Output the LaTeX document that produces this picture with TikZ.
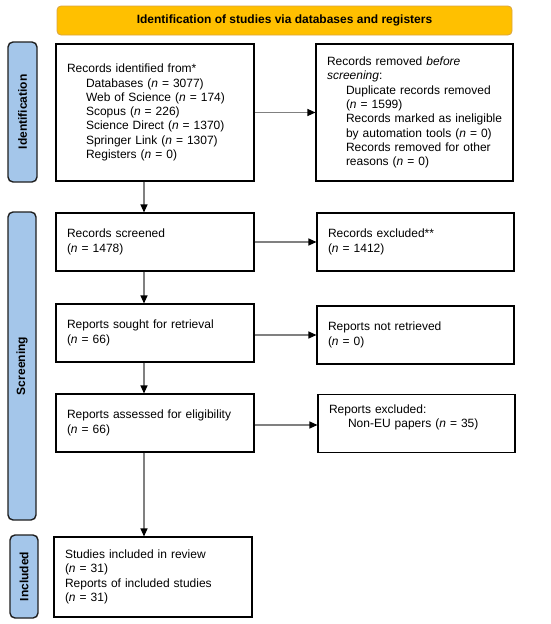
\documentclass[tikz,border=0pt]{standalone}
\usepackage{fontspec}
\setmainfont{Liberation Sans}
\usetikzlibrary{arrows.meta,calc}
\definecolor{gold}{HTML}{FFC000}
\definecolor{goldline}{HTML}{D9A441}
\definecolor{sideblue}{HTML}{A4C6EA}
\definecolor{sideline}{HTML}{1F1F1F}
\definecolor{arrowgray}{HTML}{808080}
\newcommand\ind[1]{\mbox{\hspace*{19pt}#1}}
\newcommand\nn{\textit{n}}
\tikzset{
  box/.style={draw=black, line width=1.1pt, fill=white, inner xsep=11pt, inner ysep=0pt,
    align=left, font=\fontsize{12}{14.3}\selectfont, anchor=center},
  side/.style={draw=sideline, line width=1.4pt, fill=sideblue, rounded corners=5pt},
  sidetext/.style={rotate=90, font=\fontsize{12}{14}\selectfont\bfseries},
  banner/.style={draw=goldline, line width=0.8pt, fill=gold, rounded corners=4pt,
    font=\fontsize{12}{14}\selectfont\bfseries},
  arr/.style={draw=arrowgray, line width=1.2pt, -{Triangle[length=8pt,width=7pt,color=black]}}
}
\begin{document}
\begin{tikzpicture}[x=1pt,y=-1pt]
\useasboundingbox (0,0) rectangle (550,624);
% banner
\node[banner, minimum width=455, minimum height=29] (ban) at (284.5,20.5) {Identification of studies via databases and registers};
% side bars
\draw[side] (8,42) rectangle (37,182);
\node[sidetext] (sid) at (22.5,112) {Identification};
\draw[side] (8,212) rectangle (36,520);
\node[sidetext] (sscr) at (22,366) {Screening};
\draw[side] (10,535) rectangle (38,618);
\node[sidetext] (sinc) at (24,576.5) {Included};
% boxes
\node[box, minimum width=198, minimum height=137, text width=176] (b1) at (155,112.5)
 {Records identified from*\\
  \ind{Databases (\nn{} = 3077)}\\
  \ind{Web of Science (\nn{} = 174)}\\
  \ind{Scopus (\nn{} = 226)}\\
  \ind{Science Direct (\nn{} = 1370)}\\
  \ind{Springer Link (\nn{} = 1307)}\\
  \ind{Registers (\nn{} = 0)}};
\node[box, minimum width=197, minimum height=137, text width=175] (r1) at (414.5,112.5)
 {Records removed \textit{before}\\
  \textit{screening}:\\
  \ind{Duplicate records removed}\\
  \ind{(\nn{} = 1599)}\\
  \ind{Records marked as ineligible}\\
  \ind{by automation tools (\nn{} = 0)}\\
  \ind{Records removed for other}\\
  \ind{reasons (\nn{} = 0)}};
\node[box, minimum width=198, minimum height=58, text width=176] (b2) at (155,242)
 {Records screened\\(\nn{} = 1478)};
\node[box, minimum width=197, minimum height=58, text width=175] (r2) at (415.5,242)
 {Records excluded**\\(\nn{} = 1412)};
\node[box, minimum width=198, minimum height=58, text width=176] (b3) at (155,333)
 {Reports sought for retrieval\\(\nn{} = 66)};
\node[box, minimum width=197, minimum height=58, text width=175] (r3) at (415.5,335)
 {Reports not retrieved\\(\nn{} = 0)};
\node[box, minimum width=198, minimum height=58, text width=176] (b4) at (155,423)
 {Reports assessed for eligibility\\(\nn{} = 66)};
\node[box, minimum width=197, minimum height=58, text width=175] (r4) at (416.5,423.5)
 {Reports excluded:\\\ind{Non-EU papers (\nn{} = 35)}\\\mbox{}};
\node[box, minimum width=198, minimum height=80, text width=176] (b5) at (153,577)
 {Studies included in review\\(\nn{} = 31)\\Reports of included studies\\(\nn{} = 31)};
% arrows
\coordinate (ax) at (144,0);
\draw[arr] (b1.south -| ax) -- (b2.north -| ax);
\draw[arr] (b2.south -| ax) -- (b3.north -| ax);
\draw[arr] (b3.south -| ax) -- (b4.north -| ax);
\draw[arr] (b4.south -| ax) -- (b5.north -| ax);
\draw[arr] (b1.east) -- (r1.west |- b1.east);
\draw[arr] (b2.east) -- (r2.west |- b2.east);
\draw[arr] ($(b3.east)+(0,2)$) -- (r3.west |- {$(b3.east)+(0,2)$});
\draw[arr] ($(b4.east)+(0,2)$) -- (r4.west |- {$(b4.east)+(0,2)$});
\end{tikzpicture}
\end{document}
